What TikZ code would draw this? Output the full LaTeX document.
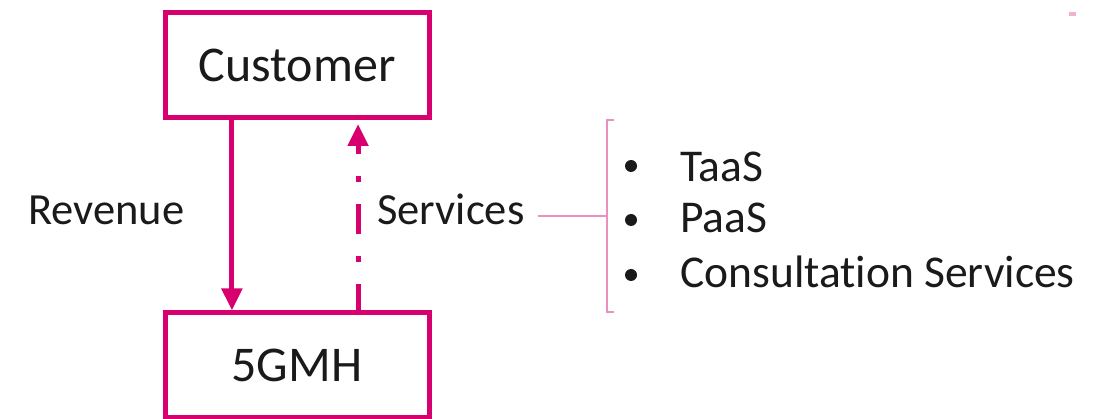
\documentclass[tikz,border=0pt]{standalone}
\usepackage{fontspec}
\setmainfont{Carlito}[Ligatures=NoCommon]
\usetikzlibrary{arrows.meta,calc}
\definecolor{magenta5g}{HTML}{D8006E}
\definecolor{bracketpink}{HTML}{EC8FBE}
\definecolor{ink}{HTML}{1A1A1A}
\begin{document}
\begin{tikzpicture}[x=1pt,y=-1pt,
  entity/.style={draw=magenta5g,line width=5pt,minimum width=264pt,minimum height=105pt,
    inner sep=0pt,text=ink,font=\fontsize{50}{60}\selectfont},
  flowlabel/.style={inner sep=0pt,text=ink,font=\fontsize{44.5}{53}\selectfont},
  itemtext/.style={inner sep=0pt,text=ink,anchor=base west,font=\fontsize{45.5}{54}\selectfont},
  dot/.style={circle,fill=ink,inner sep=0pt,minimum size=12pt},
  flow/.style={draw=magenta5g,line width=5pt,-{Triangle[length=22pt,width=20pt]}},
  dashdot/.style={dash pattern=on 30pt off 22pt on 6pt off 22pt,dash phase=4pt}
]
\useasboundingbox (0,0) rectangle (1101,419);
\fill[white] (0,0) rectangle (1101,419);

% the two parties
\node[entity] (cust) at (297,65) {Customer};
\node[entity] (mh)   at (297,365.5) {5GMH};

% revenue flows down, services flow up
\coordinate (revtop) at ($(cust.south west)!0.258!(cust.south east)$);
\coordinate (revbot) at ($(mh.north west)!0.258!(mh.north east)$);
\coordinate (srvbot) at ($(mh.north west)!0.727!(mh.north east)$);
\coordinate (srvtop) at ($(cust.south west)!0.727!(cust.south east)$);
\draw[flow] (revtop) -- (revbot);
\draw[flow,dashdot,shorten >=4pt] (srvbot) -- (srvtop);

\node[flowlabel,anchor=base west] (rev)  at (28,225)  {Revenue};
\node[flowlabel,anchor=base west] (serv) at (377,225) {Services};

% bracket grouping the service offerings
\coordinate (brk) at (607,216);
\draw[bracketpink,line width=2pt] (614,120) -- (607,120) -- (607,312) -- (614,312);
\draw[bracketpink,line width=2pt,shorten <=13pt] (serv.east |- brk) -- (brk);

% offerings
\node[dot] (b1) at (631,166) {};
\node[dot] (b2) at (631,220) {};
\node[dot] (b3) at (631,275) {};
\node[itemtext] (it1) at (680,182) {TaaS};
\node[itemtext] (it2) at (680,233) {PaaS};
\node[itemtext] (it3) at (680,288) {Consultation Services};

% small mark in the corner
\fill[bracketpink!70] (1069,12) rectangle (1076,16);
\end{tikzpicture}
\end{document}
